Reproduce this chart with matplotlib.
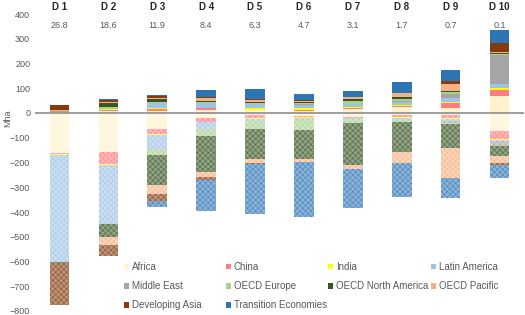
import numpy as np
import matplotlib.pyplot as plt
from matplotlib.colors import to_rgb

plt.rcParams['font.family'] = ['Liberation Sans', 'DejaVu Sans']

deciles = ['D 1', 'D 2', 'D 3', 'D 4', 'D 5', 'D 6', 'D 7', 'D 8', 'D 9', 'D 10']
top_vals = ['26.8', '18.6', '11.9', '8.4', '6.3', '4.7', '3.1', '1.7', '0.7', '0.1']

regions = ['Africa', 'China', 'India', 'Latin America', 'Middle East', 'OECD Europe',
           'OECD North America', 'OECD Pacific', 'Developing Asia', 'Transition Economies']
colors = ['#FFF2CC', '#FF7C80', '#FFFF00', '#9DC3E6', '#A5A5A5', '#A9D18E',
          '#375623', '#F4B183', '#843C0C', '#2E75B6']

# Zuwachs (positiv) je Region und Dezil, Mha
gain = {
    'Africa':               [3, 8, 10, 12, 12, 10, 17, 24, 21, 67],
    'China':                [5, 6, 8, 8, 2, 2, 2, 6, 20, 27],
    'India':                [0, 1, 1, 1, 6, 9, 5, 2, 2, 7],
    'Latin America':        [2, 4, 20, 18, 15, 13, 11, 13, 16, 16],
    'Middle East':          [0, 1, 1, 1, 1, 1, 1, 2, 16, 117],
    'OECD Europe':          [1, 3, 5, 4, 5, 5, 12, 9, 8, 5],
    'OECD North America':   [2, 18, 13, 6, 4, 4, 8, 10, 6, 2],
    'OECD Pacific':         [1, 5, 4, 11, 8, 6, 7, 13, 30, 5],
    'Developing Asia':      [18, 8, 8, 5, 2, 2, 2, 2, 10, 38],
    'Transition Economies': [2, 3, 3, 27, 43, 23, 24, 44, 44, 50],
}
# Verlust (negativ) je Region und Dezil, Mha
loss = {
    'Africa':               [-160, -158, -66, -22, -10, -14, -16, -8, -8, -73],
    'China':                [-5, -48, -19, -13, -12, -4, -3, -9, -14, -33],
    'India':                [-3, -6, -4, -2, -3, -3, -2, -2, -2, -5],
    'Latin America':        [-432, -235, -57, -29, -8, -5, -4, -8, -10, -3],
    'Middle East':          [0, 0, 0, 0, 0, 0, 0, 0, -8, -19],
    'OECD Europe':          [-2, -2, -23, -25, -33, -42, -17, -8, -2, -2],
    'OECD North America':   [-5, -50, -121, -148, -121, -119, -168, -123, -96, -40],
    'OECD Pacific':         [0, -36, -36, -20, -16, -9, -17, -42, -121, -27],
    'Developing Asia':      [-167, -44, -31, -11, -2, 0, 0, 0, 0, -10],
    'Transition Economies': [0, 0, -24, -124, -205, -226, -157, -140, -81, -49],
}

def light(c, f=0.5):
    r, g, b = to_rgb(c)
    return (1 - f + f * r, 1 - f + f * g, 1 - f + f * b)

plt.rcParams['hatch.linewidth'] = 0.4

fig = plt.figure(figsize=(5.25, 3.15), dpi=100)
ax = fig.add_axes([35/525, 1 - 311/315, 489/525, 297/315])

x = np.arange(len(deciles))
w = 0.4
pos_bottom = np.zeros(len(x))
neg_bottom = np.zeros(len(x))
handles = {}
for reg, col in zip(regions, colors):
    g = np.array(gain[reg], dtype=float)
    l = np.array(loss[reg], dtype=float)
    h = ax.bar(x, g, w, bottom=pos_bottom, color=col, linewidth=0)
    ax.bar(x, l, w, bottom=neg_bottom, facecolor=light(col, 0.55),
           edgecolor=light(col, 0.9), hatch='xxxxxx', linewidth=0)
    handles[reg] = h
    pos_bottom += g
    neg_bottom += l

ax.axhline(0, color='#8c8c8c', lw=1.2)
ax.set_xlim(-0.5, 9.5)
ax.set_ylim(-800, 400)
ax.set_yticks(range(-800, 401, 100))
ax.set_xticks([])
ax.tick_params(axis='y', length=0, labelsize=6.5, labelcolor='#595959', pad=3.5)
for s in ax.spines.values():
    s.set_visible(False)

for i, (d, v) in enumerate(zip(deciles, top_vals)):
    ax.text(i, 427, d, ha='center', va='center', fontsize=7, fontweight='bold',
            color='#262626', clip_on=False)
    ax.text(i, 355, v, ha='center', va='center', fontsize=6.5, color='#595959')

fig.text(8/525, 1 - 118/315, 'Mha', rotation=90, ha='center', va='center',
         fontsize=6.5, color='#595959')

# Legende: vier Spalten mit gleichem Abstand, zeilenweise gelesen
columns = [['Africa', 'Middle East', 'Developing Asia'],
           ['China', 'OECD Europe', 'Transition Economies'],
           ['India', 'OECD North America'],
           ['Latin America', 'OECD Pacific']]
col_x = [124, 226, 328, 431]
for cx, names in zip(col_x, columns):
    leg = fig.legend([handles[r] for r in names], names, frameon=False,
                     loc='upper left', bbox_to_anchor=(cx/525, 1 - 262/315),
                     fontsize=7, handlelength=0.5, handleheight=0.5,
                     handletextpad=0.3, labelspacing=0.95,
                     borderaxespad=0, borderpad=0)
    for t in leg.get_texts():
        t.set_color('#595959')

fig.savefig('out.png', dpi=100)
